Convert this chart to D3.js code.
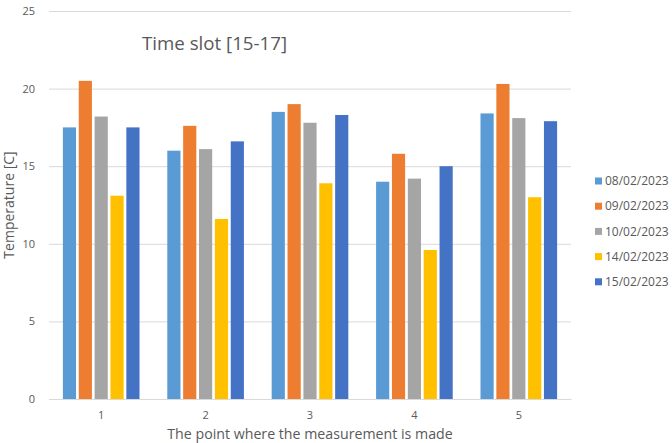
<!DOCTYPE html>
<html>
<head>
<meta charset="utf-8">
<script src="https://cdn.jsdelivr.net/npm/d3@7"></script>
<style>
  html, body { margin: 0; padding: 0; background: #fff; }
  svg { display: block; font-family: "Open Sans", "Noto Sans", sans-serif; }
</style>
</head>
<body>
<svg id="chart" width="672" height="443"></svg>
<script>
// Measurement points along the x axis
const points = ["1", "2", "3", "4", "5"];
// Measurement dates (one series each)
const dates = ["08/02/2023", "09/02/2023", "10/02/2023", "14/02/2023", "15/02/2023"];
// Temperature per date, one value per measurement point
const t0802 = [17.5, 16.0, 18.5, 14.0, 18.4];
const t0902 = [20.5, 17.6, 19.0, 15.8, 20.3];
const t1002 = [18.2, 16.1, 17.8, 14.2, 18.1];
const t1402 = [13.1, 11.6, 13.9, 9.6, 13.0];
const t1502 = [17.5, 16.6, 18.3, 15.0, 17.9];
const yTicks = [0, 5, 10, 15, 20, 25];
const colors = ["#5B9BD5", "#ED7D31", "#A5A5A5", "#FFC000", "#4472C4"];

const seriesValues = [t0802, t0902, t1002, t1402, t1502];

const svg = d3.select("#chart");
const plot = { left: 49, right: 571, top: 11, bottom: 399 };

const y = d3.scaleLinear().domain([0, 25]).range([plot.bottom, plot.top]);
const x0 = d3.scaleBand().domain(points).range([plot.left, plot.right])
  .paddingInner(0.266).paddingOuter(0.133);
const x1 = d3.scaleBand().domain(dates).range([0, x0.bandwidth()])
  .paddingInner(0.17).paddingOuter(0);

// Horizontal gridlines
const grid = d3.axisLeft(y).tickValues(yTicks)
  .tickSize(-(plot.right - plot.left)).tickFormat("");
svg.append("g").attr("transform", `translate(${plot.left},0)`).call(grid)
  .call(g => g.select(".domain").remove())
  .call(g => g.selectAll("line").attr("stroke", "#d9d9d9").attr("stroke-width", 1));

// Y tick labels
const yAxis = d3.axisLeft(y).tickValues(yTicks).tickSize(0).tickPadding(14);
svg.append("g").attr("transform", `translate(${plot.left},0)`).call(yAxis)
  .call(g => g.select(".domain").remove())
  .call(g => g.selectAll("text").attr("fill", "#595959")
    .style("font-size", "11px").style("font-family", "'Open Sans', sans-serif"));

// Bars
const groups = svg.append("g").selectAll("g").data(points).join("g")
  .attr("transform", d => `translate(${x0(d)},0)`);
groups.selectAll("rect")
  .data((p, i) => dates.map((d, s) => ({ date: d, s, v: seriesValues[s][i] })))
  .join("rect")
  .attr("x", d => x1(d.date))
  .attr("width", x1.bandwidth())
  .attr("y", d => y(d.v))
  .attr("height", d => y(0) - y(d.v))
  .attr("fill", d => colors[d.s]);

// X axis
const xAxis = d3.axisBottom(x0).tickSize(0).tickPadding(12);
svg.append("g").attr("transform", `translate(0,${plot.bottom})`).call(xAxis)
  .call(g => g.select(".domain").attr("stroke", "#d9d9d9").attr("stroke-width", 1.2))
  .call(g => g.selectAll("text").attr("fill", "#595959")
    .style("font-size", "11px").style("font-family", "'Open Sans', sans-serif"));

// Title
svg.append("text")
  .attr("x", 214.5).attr("y", 50)
  .attr("text-anchor", "middle")
  .attr("fill", "#595959")
  .style("font-size", "18.7px")
  .text("Time slot [15-17]");

// Axis titles
svg.append("text")
  .attr("x", (plot.left + plot.right) / 2).attr("y", 439)
  .attr("text-anchor", "middle")
  .attr("fill", "#595959")
  .style("font-size", "14.2px")
  .text("The point where the measurement is made");

svg.append("text")
  .attr("transform", `translate(14,${(plot.top + plot.bottom) / 2}) rotate(-90)`)
  .attr("text-anchor", "middle")
  .attr("fill", "#595959")
  .style("font-size", "14px")
  .text("Temperature [C]");

// Legend
const legend = svg.append("g").selectAll("g").data(dates).join("g")
  .attr("transform", (d, i) => `translate(595,${181 + i * 25.2})`);
legend.append("rect")
  .attr("x", 0).attr("y", -3.5).attr("width", 7).attr("height", 7)
  .attr("fill", (d, i) => colors[i]);
legend.append("text")
  .attr("x", 10).attr("y", 0).attr("dy", "0.35em")
  .attr("fill", "#595959")
  .style("font-size", "12px")
  .text(d => d);
</script>
</body>
</html>
